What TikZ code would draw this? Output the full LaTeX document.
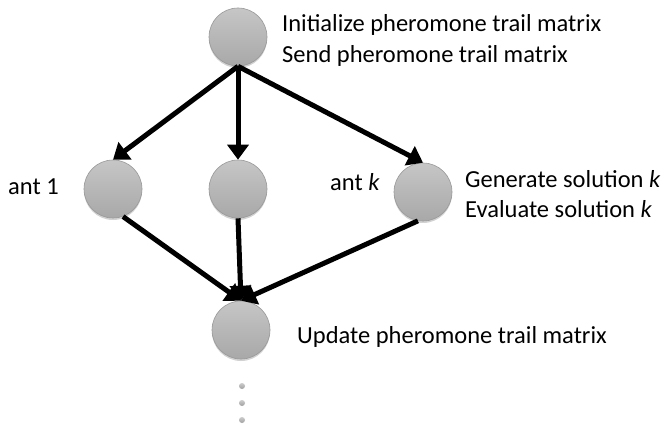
\documentclass[tikz,border=0pt]{standalone}
\usepackage{fontspec}
\setmainfont{Carlito}
\usetikzlibrary{arrows.meta,shadows}
\begin{document}
\begin{tikzpicture}[x=1pt,y=-1pt,
  ball/.style={circle,minimum size=58pt,inner sep=0pt,top color=gray!45,bottom color=gray!68,
    draw=gray!80,line width=0.6pt,drop shadow={shadow xshift=0pt,shadow yshift=-2pt,opacity=0.35}},
  dotball/.style={circle,minimum size=6pt,inner sep=0pt,top color=gray!40,bottom color=gray!75},
  flow/.style={line width=5pt,-{Triangle[length=15pt,width=21pt]}},
  lbl/.style={font=\fontsize{24.5}{31}\selectfont,inner sep=0pt,anchor=base west}]
\useasboundingbox[fill=white] (0,0) rectangle (666,427);
\node[ball] (top) at (238,37) {};
\node[ball] (left) at (113,189) {};
\node[ball] (mid) at (238,189) {};
\node[ball] (right) at (423,192) {};
\node[ball] (bot) at (241,330) {};
\node[dotball] (d1) at (242,386) {};
\node[dotball] (d2) at (242,403) {};
\node[dotball] (d3) at (242,420) {};
\draw[flow] (top.south) -- (left.north);
\draw[flow] (top.south) -- (mid.north);
\draw[flow] (top.south) -- (right.north);
\draw[flow] (left.290) -- (bot.north);
\draw[flow] (mid.south) -- (bot.north);
\draw[flow] (right.260) -- (bot.north);
\node[lbl] (t1) at (282,32) {Initialize pheromone trail matrix};
\node[lbl] (t2) at (282,63) {Send pheromone trail matrix};
\node[lbl] (a1) at (8,195) {ant 1};
\node[lbl] (ak) at (330,191) {ant \textit{k}};
\node[lbl] (g1) at (465,188) {Generate solution \textit{k}};
\node[lbl] (g2) at (465,218) {Evaluate solution \textit{k}};
\node[lbl] (u1) at (297,343) {Update pheromone trail matrix};
\end{tikzpicture}
\end{document}
